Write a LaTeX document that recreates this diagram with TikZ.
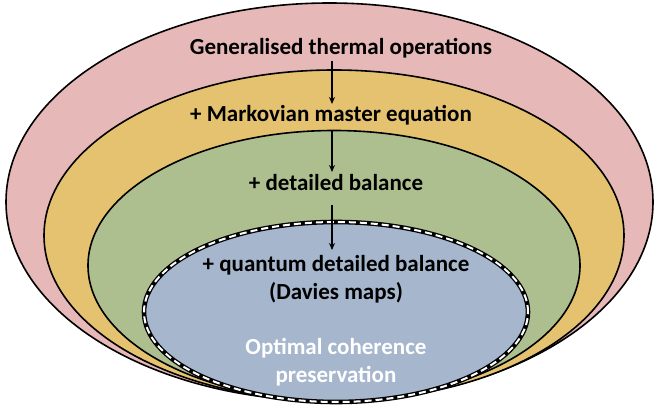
\documentclass[tikz,border=0pt]{standalone}
\usepackage{fontspec}
\setmainfont{Carlito}
\usetikzlibrary{arrows.meta}
\definecolor{cpink}{HTML}{E6B8B7}
\definecolor{corange}{HTML}{E5C270}
\definecolor{cgreen}{HTML}{AEBF8F}
\definecolor{cblue}{HTML}{A5B6CD}
\tikzset{
  lbl/.style={font=\fontsize{23}{28}\selectfont\bfseries, align=center, anchor=base, inner sep=0pt},
  setline/.style={draw=black, line width=1.6pt},
  flow/.style={-{Stealth[length=7pt,width=6pt]}, line width=1.2pt}
}
\begin{document}
\begin{tikzpicture}[x=1pt,y=-1pt]
\useasboundingbox (0,0) rectangle (654,409);
% nested sets
\filldraw[setline, fill=cpink] (329.5,202) ellipse [x radius=323.5pt, y radius=199pt];
\filldraw[setline, fill=corange] (334,235.5) ellipse [x radius=290pt, y radius=165.5pt];
\filldraw[setline, fill=cgreen] (334,265.5) ellipse [x radius=246pt, y radius=135pt];
\fill[cblue] (336,312) ellipse [x radius=192pt, y radius=90pt];
\draw[black, line width=4.6pt] (336,312) ellipse [x radius=192pt, y radius=90pt];
\draw[white, line width=2pt, dash pattern=on 7pt off 4pt] (336,312) ellipse [x radius=192pt, y radius=90pt];
% labels (base anchor = baseline of last line)
\node[lbl] (t1) at (341,55) {Generalised thermal operations};
\node[lbl] (t2) at (331,122) {+ Markovian master equation};
\node[lbl] (t3) at (336,191) {+ detailed balance};
\node[lbl] (t4) at (336,299) {+ quantum detailed balance\\(Davies maps)};
\node[lbl, text=white] (t5) at (336,382) {Optimal coherence\\preservation};
% arrows
\coordinate (a1s) at (332,61);  \coordinate (a1e) at (332,104);
\coordinate (a2s) at (332,130); \coordinate (a2e) at (332,172);
\coordinate (a3s) at (332,205); \coordinate (a3e) at (332,250);
\draw[flow] (a1s) -- (a1e);
\draw[flow] (a2s) -- (a2e);
\draw[flow] (a3s) -- (a3e);
\end{tikzpicture}
\end{document}
